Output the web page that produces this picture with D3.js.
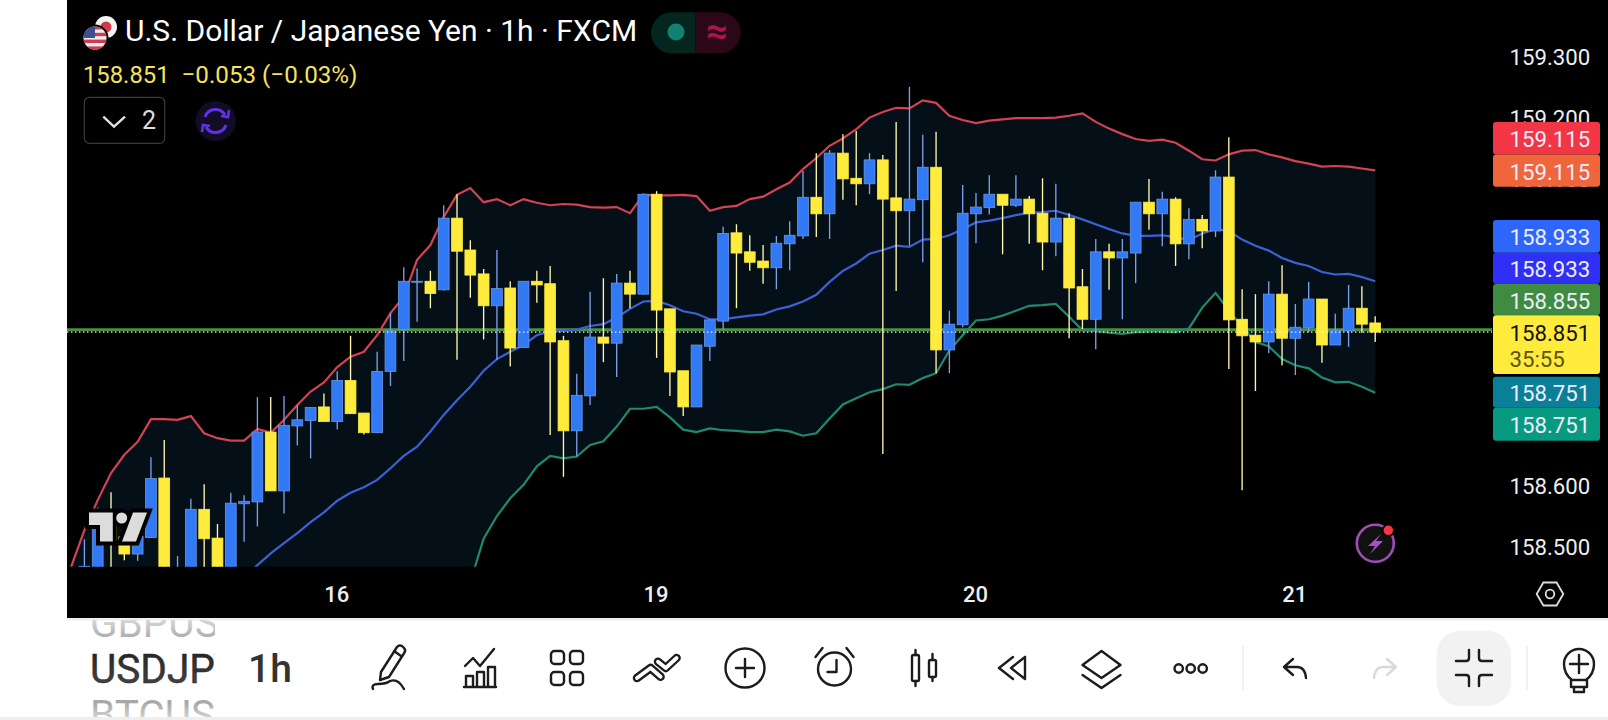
<!DOCTYPE html>
<html><head><meta charset="utf-8">
<script src="https://cdn.jsdelivr.net/npm/d3@7/dist/d3.min.js"></script>
<style>
html,body{margin:0;padding:0;background:#fff;overflow:hidden}
svg{display:block;font-family:Roboto,sans-serif}
</style></head><body>
<svg id="c" width="1608" height="720"></svg>
<script>
const open=[158.41,158.452,158.436,158.555,158.517,158.489,158.516,158.613,158.414,158.436,
158.562,158.515,158.458,158.571,158.574,158.688,158.592,158.698,158.707,158.729,
158.705,158.772,158.719,158.687,158.787,158.855,158.933,158.934,158.920,159.037,
158.985,158.946,158.894,158.923,158.826,158.934,158.930,158.837,158.690,158.747,
158.843,158.833,158.931,158.913,159.076,158.889,158.788,158.729,158.828,158.869,
159.013,158.982,158.967,158.956,158.995,159.008,159.071,159.044,159.143,159.102,
159.093,159.132,159.070,159.049,159.067,159.120,158.822,158.863,159.044,159.054,
159.076,159.058,159.068,159.045,158.998,159.037,158.925,158.872,158.982,158.972,
158.980,159.063,159.044,159.068,158.995,159.035,159.016,159.104,158.872,158.846,
158.835,158.913,158.841,158.858,158.905,158.830,158.853,158.890,158.866];
const close=[158.42,158.469,158.533,158.512,158.489,158.518,158.612,158.392,158.458,158.562,
158.514,158.447,158.572,158.575,158.688,158.592,158.699,158.708,158.728,158.705,
158.772,158.718,158.687,158.787,158.853,158.934,158.934,158.914,159.037,158.983,
158.944,158.894,158.922,158.825,158.934,158.928,158.835,158.690,158.748,158.843,
158.833,158.931,158.913,159.076,158.887,158.786,158.729,158.830,158.871,159.012,
158.980,158.965,158.956,158.996,159.009,159.071,159.044,159.143,159.101,159.093,
159.132,159.068,159.049,159.068,159.120,158.822,158.864,159.045,159.055,159.076,
159.058,159.068,159.044,158.998,159.037,158.923,158.872,158.982,158.972,158.982,
159.063,159.044,159.068,158.995,159.035,159.016,159.104,158.871,158.845,158.835,
158.913,158.841,158.859,158.905,158.830,158.854,158.890,158.864,158.851];
const high=[158.44,158.513,158.565,158.590,158.528,158.534,158.647,158.675,158.486,158.579,
158.603,158.538,158.589,158.585,158.745,158.745,158.747,158.732,158.728,158.751,
158.787,158.845,158.719,158.819,158.882,158.957,158.955,158.951,159.058,159.076,
159.001,158.954,158.985,158.934,158.934,158.951,158.959,158.845,158.783,158.917,
158.939,158.946,158.951,159.077,159.081,158.889,158.788,158.830,158.871,159.023,
159.027,159.009,158.993,159.008,159.032,159.114,159.143,159.148,159.174,159.179,
159.143,159.140,159.194,159.251,159.173,159.178,158.886,159.091,159.078,159.107,
159.076,159.107,159.073,159.102,159.093,159.045,158.954,159.003,158.995,159.003,
159.063,159.101,159.080,159.071,159.053,159.042,159.115,159.169,158.921,158.913,
158.934,158.960,158.897,158.933,158.905,158.881,158.928,158.926,158.877];
const low=[158.37,158.436,158.414,158.414,158.479,158.478,158.515,158.365,158.392,158.414,
158.447,158.425,158.436,158.509,158.534,158.592,158.555,158.666,158.645,158.705,
158.692,158.718,158.684,158.687,158.763,158.804,158.868,158.890,158.919,158.806,
158.907,158.839,158.806,158.795,158.826,158.899,158.683,158.615,158.648,158.732,
158.802,158.778,158.890,158.912,158.809,158.747,158.714,158.729,158.804,158.855,
158.890,158.951,158.930,158.921,158.952,159.003,159.006,159.003,159.067,159.058,
159.076,158.652,158.918,158.992,158.965,158.784,158.784,158.859,158.996,159.043,
158.978,159.055,158.995,158.952,158.975,158.841,158.856,158.823,158.920,158.872,
158.931,159.018,158.991,158.959,158.970,158.988,159.006,158.791,158.593,158.755,
158.817,158.797,158.781,158.851,158.801,158.830,158.827,158.850,158.835];
const bbUpper=[158.468,158.528,158.577,158.621,158.651,158.672,158.709,158.709,158.708,158.714,
158.686,158.678,158.674,158.674,158.693,158.687,158.708,158.732,158.754,158.769,
158.794,158.811,158.819,158.846,158.882,158.909,158.969,158.993,159.039,159.075,
159.086,159.063,159.068,159.058,159.068,159.062,159.058,159.060,159.059,159.055,
159.054,159.055,159.045,159.075,159.074,159.074,159.075,159.073,159.049,159.055,
159.057,159.068,159.072,159.084,159.095,159.117,159.135,159.155,159.167,159.182,
159.201,159.210,159.217,159.216,159.229,159.225,159.204,159.197,159.192,159.196,
159.198,159.200,159.200,159.200,159.201,159.204,159.208,159.194,159.183,159.174,
159.166,159.163,159.165,159.160,159.147,159.133,159.131,159.141,159.147,159.148,
159.141,159.136,159.130,159.126,159.121,159.122,159.121,159.118,159.115];
const bbBasis=[158.30,158.31,158.32,158.33,158.34,158.35,158.36,158.37,158.38,158.39,
158.40,158.41,158.43,158.45,158.471,158.490,158.507,158.523,158.541,158.557,
158.576,158.589,158.598,158.610,158.629,158.649,158.664,158.689,158.716,158.740,
158.762,158.788,158.807,158.819,158.830,158.846,158.852,158.853,158.855,158.861,
158.864,158.875,158.889,158.901,158.902,158.895,158.885,158.881,158.872,158.872,
158.875,158.878,158.880,158.888,158.893,158.901,158.912,158.933,158.951,158.963,
158.979,158.985,158.992,158.990,159.002,159.003,159.009,159.019,159.030,159.033,
159.037,159.042,159.046,159.047,159.049,159.042,159.035,159.027,159.019,159.012,
159.008,159.008,159.009,159.006,159.001,159.012,159.019,159.016,159.002,158.992,
158.984,158.972,158.964,158.959,158.949,158.945,158.946,158.941,158.934];
const bbLower=[158.10,158.11,158.12,158.13,158.14,158.15,158.16,158.17,158.18,158.19,
158.20,158.21,158.22,158.23,158.24,158.25,158.26,158.27,158.28,158.29,
158.30,158.30,158.31,158.31,158.32,158.32,158.33,158.35,158.37,158.39,
158.443,158.514,158.551,158.580,158.602,158.632,158.649,158.645,158.648,158.667,
158.673,158.697,158.726,158.726,158.729,158.712,158.692,158.688,158.694,158.691,
158.690,158.688,158.688,158.692,158.689,158.682,158.686,158.710,158.733,158.743,
158.753,158.758,158.766,158.765,158.776,158.784,158.821,158.846,158.870,158.872,
158.878,158.886,158.894,158.895,158.897,158.876,158.854,158.853,158.850,158.848,
158.851,158.852,158.852,158.851,158.857,158.891,158.915,158.886,158.860,158.835,
158.828,158.807,158.797,158.792,158.777,158.769,158.770,158.762,158.752];
const priceTicks=[159.3,159.2,159.1,159.0,158.9,158.8,158.7,158.6,158.5];
const dayTickIndex=[20,44,68,92];
const dayTickLabels=["16","19","20","21"];
const lastPrice=158.851, greenLevel=158.855;
const labelTexts=["159.115","159.115","158.933","158.933","158.855","158.851","158.751","158.751"];
const labelColors=["#f23645","#f0653a","#2e66fb","#2f2ff5","#3f8c40","#ffeb3b","#0a7f98","#089981"];
const titleText="U.S. Dollar / Japanese Yen · 1h · FXCM";
const legendClose="158.851", legendChange="−0.053 (−0.03%)";
const countdown="35:55";

const svg=d3.select("#c");
const defs=svg.append("defs");
defs.append("clipPath").attr("id","plot").append("rect").attr("x",67).attr("y",0).attr("width",1541).attr("height",566.7);
defs.append("clipPath").attr("id","sym").append("rect").attr("x",85).attr("y",620).attr("width",130).attr("height",97);
const g1=defs.append("linearGradient").attr("id","symFade").attr("x1",0).attr("x2",0).attr("y1",0).attr("y2",1);
g1.append("stop").attr("offset","0%").attr("stop-color","#1f1f1f");g1.append("stop").attr("offset","100%").attr("stop-color","#4a4a4a");
const g2=defs.append("linearGradient").attr("id","symTop").attr("x1",0).attr("x2",0).attr("y1",0).attr("y2",1);
g2.append("stop").attr("offset","30%").attr("stop-color","#e6e6e6");g2.append("stop").attr("offset","85%").attr("stop-color","#a8a8a8");
const g3=defs.append("linearGradient").attr("id","symBot").attr("x1",0).attr("x2",0).attr("y1",0).attr("y2",1);
g3.append("stop").attr("offset","25%").attr("stop-color","#a8a8a8");g3.append("stop").attr("offset","70%").attr("stop-color","#e6e6e6");

svg.append("rect").attr("width",1608).attr("height",720).attr("fill","#fff");
svg.append("rect").attr("x",67).attr("y",0).attr("width",1541).attr("height",618).attr("fill","#000");
svg.append("rect").attr("x",67).attr("y",618).attr("width",1541).attr("height",2.5).attr("fill","#f0f0f0");
svg.append("rect").attr("x",0).attr("y",717).attr("width",1608).attr("height",3).attr("fill","#efefef");

const x=d3.scaleLinear().domain([0,98]).range([71.1,1375.2]);
const y=d3.scaleLinear().domain([159.3,158.5]).range([56.9,547.3]);
const idx=d3.range(open.length);

const plot=svg.append("g").attr("clip-path","url(#plot)");
plot.append("path").attr("fill","#050f17")
  .attr("d",d3.area().x(i=>x(i)).y0(i=>y(bbLower[i])).y1(i=>y(bbUpper[i]))(idx));
plot.append("line").attr("x1",67).attr("x2",1492).attr("y1",y(greenLevel)).attr("y2",y(greenLevel))
  .attr("stroke","#4a9140").attr("stroke-width",3);
const lineGen=arr=>d3.line().x(i=>x(i)).y(i=>y(arr[i]))(idx);
[[bbUpper,"#d24353"],[bbBasis,"#3c60d6"],[bbLower,"#1f8a6f"]].forEach(([a,c])=>{
  plot.append("path").attr("d",lineGen(a)).attr("fill","none").attr("stroke",c).attr("stroke-width",2.2);
});
const bw=10.8;
const up=i=>close[i]>=open[i];
plot.selectAll("line.w").data(idx).join("line").attr("class","w")
  .attr("x1",i=>x(i)).attr("x2",i=>x(i)).attr("y1",i=>y(high[i])).attr("y2",i=>y(low[i]))
  .attr("stroke",i=>up(i)?"#7b9fe8":"#fff7ab").attr("stroke-width",1.35);
plot.selectAll("rect.b").data(idx).join("rect").attr("class","b")
  .attr("x",i=>x(i)-bw/2).attr("width",bw)
  .attr("y",i=>y(Math.max(open[i],close[i])))
  .attr("height",i=>Math.max(1,Math.abs(y(open[i])-y(close[i]))))
  .attr("fill",i=>up(i)?"#3179f5":"#ffeb3b")
  .attr("stroke",i=>up(i)?"#6a96e6":"#ffeb3b").attr("stroke-width",.8);
plot.append("line").attr("x1",67).attr("x2",1492).attr("y1",y(lastPrice)).attr("y2",y(lastPrice))
  .attr("stroke","#fff7c8").attr("stroke-width",1.1).attr("stroke-dasharray","1.4 2.6");

// axes
const pa=svg.append("g").attr("transform","translate(1509.5,0)")
  .call(d3.axisRight(y).tickValues(priceTicks).tickFormat(d3.format(".3f")).tickSize(0).tickPadding(0));
pa.select(".domain").remove();
pa.selectAll("text").attr("fill","#eee").attr("font-size",22.2).attr("font-family","Roboto");
const ta=svg.append("g").attr("transform","translate(-1,602)")
  .call(d3.axisBottom(x).tickValues(dayTickIndex).tickFormat((d,i)=>dayTickLabels[i]).tickSize(0).tickPadding(0));
ta.select(".domain").remove();
ta.selectAll("text").attr("fill","#eee").attr("font-size",22).attr("font-family","Roboto").attr("font-weight",500).attr("dy",0).attr("y",0);

// price labels
const labelBoxes=[[122,154.5],[154.5,186.7],[220,252.7],[252.7,284],[284,315.3],[315.3,374],[376.7,407.7],[407.7,440.7]];
const labs=svg.append("g");
labelTexts.forEach((t,i)=>{
  const [a,b]=labelBoxes[i];
  labs.append("rect").attr("x",1493).attr("y",a).attr("width",107).attr("height",b-a).attr("rx",3).attr("fill",labelColors[i]);
  const isLast=i===5;
  labs.append("text").attr("x",1509.5).attr("y",isLast?340.5:(a+b)/2+9).attr("font-size",22.2)
    .attr("fill",isLast?"#111":"#eef").text(t);
  if(isLast) labs.append("text").attr("x",1509.5).attr("y",366.5).attr("font-size",22.2).attr("fill","#5c5212").text(countdown);
});

// header
svg.append("text").attr("x",125).attr("y",41).attr("font-size",30).attr("fill","#fff").text(titleText);
svg.append("text").attr("x",83).attr("y",83).attr("font-size",23.8).attr("fill","#f5e35e").text(legendClose);
svg.append("text").attr("x",181.5).attr("y",83).attr("font-size",24.2).attr("fill","#f5e35e").text(legendChange);
// flags
const jp=svg.append("g");
jp.append("circle").attr("cx",106).attr("cy",27).attr("r",11).attr("fill","#f4f4f4");
jp.append("circle").attr("cx",106).attr("cy",27).attr("r",5.5).attr("fill","#d3394c");
svg.append("circle").attr("cx",95).attr("cy",38).attr("r",13.5).attr("fill","#000");
defs.append("clipPath").attr("id","us").append("circle").attr("cx",95).attr("cy",38).attr("r",11.5);
const us=svg.append("g").attr("clip-path","url(#us)");
us.append("rect").attr("x",83).attr("y",26).attr("width",24).attr("height",24).attr("fill","#eee");
d3.range(0,7,2).forEach(k=>us.append("rect").attr("x",83).attr("y",26+k*3.4).attr("width",24).attr("height",3.4).attr("fill","#d3394c"));
us.append("rect").attr("x",83).attr("y",26).attr("width",12).attr("height",12).attr("fill","#3c4f8f");
// status pill
svg.append("path").attr("d","M695.6 12.3H671.6a20.5 20.5 0 0 0 0 41H695.6Z").attr("fill","#05261f");
svg.append("path").attr("d","M695.6 12.3H720.2a20.5 20.5 0 0 1 0 41H695.6Z").attr("fill","#2c0717");
svg.append("circle").attr("cx",676).attr("cy",32).attr("r",8.5).attr("fill","#11826f");
svg.append("text").attr("x",717).attr("y",44).attr("text-anchor","middle").attr("font-size",38).attr("font-weight",700).attr("fill","#a8164f").text("≈");
// collapse button
svg.append("rect").attr("x",84.3).attr("y",97.3).attr("width",80.4).attr("height",46).attr("rx",5).attr("fill","none").attr("stroke","#3a3a3a").attr("stroke-width",1.2);
svg.append("path").attr("d","M103.3 116.7L114 126.7L125 116.7").attr("fill","none").attr("stroke","#e0e0e0").attr("stroke-width",2.4);
svg.append("text").attr("x",142).attr("y",129).attr("font-size",25).attr("fill","#ddd").text("2");
// sync icon
svg.append("circle").attr("cx",215.7).attr("cy",121).attr("r",20).attr("fill","#120d24");
svg.append("path").attr("d","M205 117a11 11 0 0 1 20 -2M226 125a11 11 0 0 1 -20 2").attr("fill","none").attr("stroke","#6230ea").attr("stroke-width",3);
svg.append("path").attr("d","M221 116l7 1l1 -7M210 126l-7 -1l-1 7").attr("fill","none").attr("stroke","#6230ea").attr("stroke-width",2.6);
// TV logo
const logo=svg.append("g");
const lp=["M89 512.5H112.8V541.5H100V525H89Z","M133 512.5H147L136 541.5H122Z"];
lp.forEach(d=>logo.append("path").attr("d",d).attr("fill","#000").attr("stroke","#000").attr("stroke-width",8).attr("stroke-linejoin","miter"));
logo.append("circle").attr("cx",121.7).attr("cy",518).attr("r",9.5).attr("fill","#000");
lp.forEach(d=>logo.append("path").attr("d",d).attr("fill","#dcdcdc"));
logo.append("circle").attr("cx",121.7).attr("cy",518).attr("r",5.5).attr("fill","#dcdcdc");
// lightning
svg.append("circle").attr("cx",1375.3).attr("cy",543.3).attr("r",18.5).attr("fill","#111").attr("stroke","#9c4fb5").attr("stroke-width",2.6);
svg.append("path").attr("d","M1381 534L1368 546H1375L1370 554L1383 541H1376Z").attr("fill","#a64fc8");
svg.append("circle").attr("cx",1388.3).attr("cy",530.3).attr("r",6.5).attr("fill","#000");
svg.append("circle").attr("cx",1388.3).attr("cy",530.3).attr("r",4.8).attr("fill","#f23645");
// settings hexagon
svg.append("path").attr("d","M1536.7 594L1543.4 582.5H1556.6L1563.3 594L1556.6 605.5H1543.4Z").attr("fill","none").attr("stroke","#ddd").attr("stroke-width",1.8);
svg.append("circle").attr("cx",1550).attr("cy",594).attr("r",4.3).attr("fill","none").attr("stroke","#ddd").attr("stroke-width",1.8);

// toolbar text
const sym=svg.append("g").attr("clip-path","url(#sym)").attr("font-size",40.5).attr("font-weight",400).attr("font-family","Roboto");
sym.append("text").attr("x",90).attr("y",637).attr("fill","url(#symTop)").text("GBPUSD");
sym.append("text").attr("x",90).attr("y",683).attr("fill","url(#symFade)").attr("stroke","#2a2a2a").attr("stroke-width",.5).text("USDJPY");
sym.append("text").attr("x",90).attr("y",729).attr("fill","url(#symBot)").text("BTCUSD");
svg.append("text").attr("x",248).attr("y",682).attr("font-size",39).attr("font-weight",500).attr("fill","#333").text("1h");

// toolbar icons
const ic=(cx,cy,col)=>svg.append("g").attr("transform",`translate(${cx},${cy})`).attr("fill","none").attr("stroke",col||"#1c1c1c").attr("stroke-width",2.4).attr("stroke-linejoin","round").attr("stroke-linecap","round");
let g;
g=ic(390,668);
g.append("path").attr("d","M-9 4L7 -21Q9 -23.5 12 -22L14 -20Q16 -18 14.5 -15.5L-1 9L-10 12ZM4 -17L11 -12");
g.append("path").attr("d","M-17 21Q-19 16 -12 16Q-4 16 0 13Q8 10 14 21");
g=ic(480,668);
g.append("path").attr("d","M-15 -2L-7 -10L0 -2L14 -19M-16 19H16M-14 19V8H-7V19M-3 19V4H4V19M8 19V-1H15V19");
g=ic(567,668);
[[-16,-17],[3,-17],[-16,4],[3,4]].forEach(p=>g.append("rect").attr("x",p[0]).attr("y",p[1]).attr("width",13).attr("height",13).attr("rx",3.5));
g=ic(657,668);
["M-20 10L-6.4 0L3.6 8.7","M1 -6.3L8.8 0L19.6 -10"].forEach(d=>{
  g.append("path").attr("d",d).attr("stroke-width",8.5);
  g.append("path").attr("d",d).attr("stroke","#fff").attr("stroke-width",3.8);
});
g=ic(745,668);
g.append("circle").attr("r",19.5);g.append("path").attr("d","M-9 0H9M0 -9V9");
g=ic(834.5,669);
g.append("circle").attr("r",16.5);g.append("path").attr("d","M2 -9V3H-7M-19 -12L-12 -21M19 -12L12 -21");
g=ic(924,668);
g.append("rect").attr("x",-12).attr("y",-13).attr("width",7).attr("height",26).attr("rx",1.5);g.append("rect").attr("x",5).attr("y",-8).attr("width",7).attr("height",17).attr("rx",1.5);
g.append("path").attr("d","M-8.5 -18V-13M-8.5 13V18M8.5 -14V-8M8.5 9V13");
g=ic(1012,668);
g.append("path").attr("d","M1 -11L-13 0L1 11M13 -11L-1 0L13 11V-11");
g=ic(1101.5,668);
g.append("path").attr("d","M0 -17L19 -3L0 10L-19 -3ZM-19 7L0 20L19 7");
g=ic(1190.7,668.5);
[-12,0,12].forEach(c=>g.append("circle").attr("cx",c).attr("r",4.2));
svg.append("line").attr("x1",1243).attr("x2",1243).attr("y1",646).attr("y2",690).attr("stroke","#eee").attr("stroke-width",1.6);
g=ic(1295,668);
g.append("path").attr("d","M-2 -9L-11 -1L-2 7M-11 -1H2Q10 -1 11 10");
g=ic(1385,668,"#d9d9d9");
g.append("path").attr("d","M2 -9L11 -1L2 7M11 -1H-2Q-10 -1 -11 10");
svg.append("rect").attr("x",1436.6).attr("y",630.7).attr("width",74.4).attr("height",75.3).attr("rx",24).attr("fill","#f2f2f2");
g=ic(1474,668);
g.append("path").attr("d","M-18 -7H-8Q-5 -7 -5 -10V-18M18 -7H8Q5 -7 5 -10V-18M-18 7H-8Q-5 7 -5 10V18M18 7H8Q5 7 5 10V18");
svg.append("line").attr("x1",1527).attr("x2",1527).attr("y1",646).attr("y2",690).attr("stroke","#eee").attr("stroke-width",1.6);
g=ic(1579,668);
g.append("path").attr("d","M-7 12Q-15 6 -15 -4A15 15 0 0 1 15 -4Q15 6 7 12H-7M-9 -4H9M0 -13V5M-8 12H8V19H-8ZM-5 19V24H5V19");
</script>
</body></html>
